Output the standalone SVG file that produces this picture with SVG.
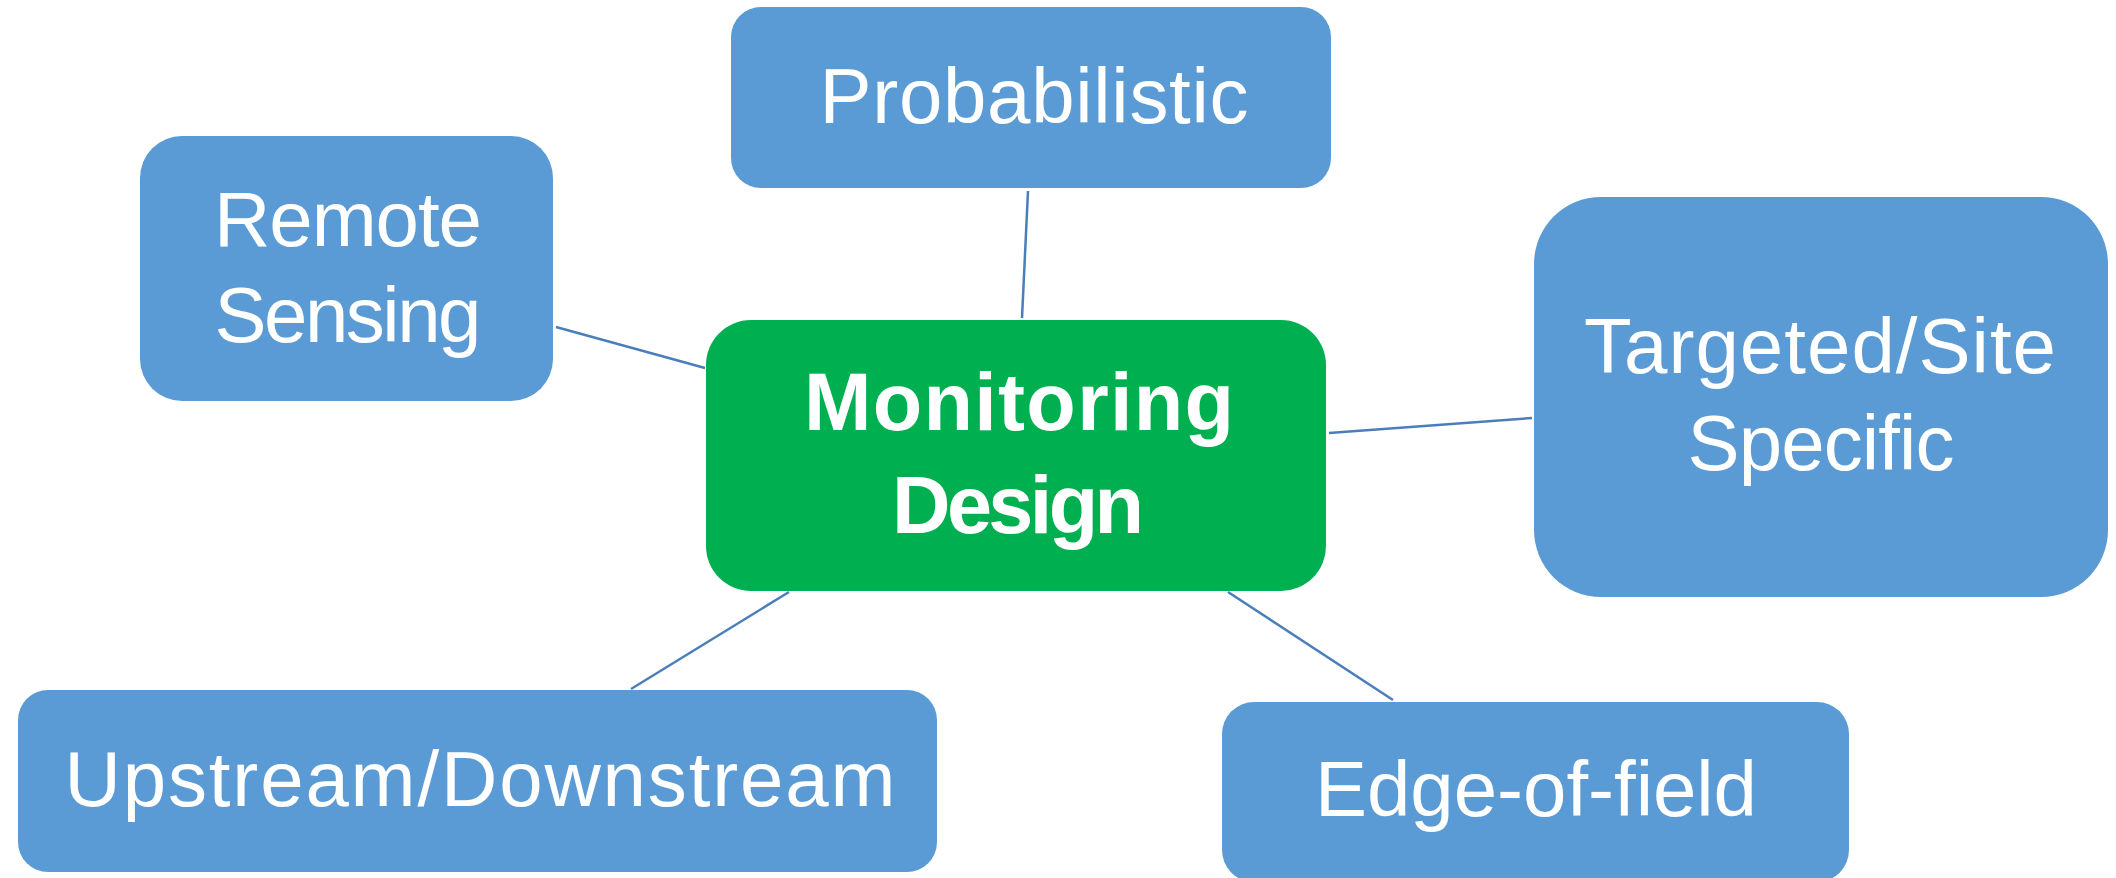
<svg xmlns="http://www.w3.org/2000/svg" width="2116" height="878" viewBox="0 0 2116 878">
  <style>
    .node { fill: #5B9BD5; }
    .center { fill: #00AF50; }
    .lbl { font-family: "Liberation Sans", Arial, sans-serif; font-size: 78px; fill: #FFFFFF; text-anchor: middle; }
    .lblb { font-family: "Liberation Sans", Arial, sans-serif; font-size: 81px; font-weight: bold; fill: #FFFFFF; text-anchor: middle; }
    .conn line { stroke: #4A7EBB; stroke-width: 2.5; fill: none; }
  </style>
  <rect width="2116" height="878" fill="#FFFFFF"/>
  <g id="connectors" class="conn">
    <line x1="1028" y1="191" x2="1022" y2="318"/>
    <line x1="556" y1="327" x2="705" y2="368"/>
    <line x1="1329" y1="433" x2="1532" y2="418"/>
    <line x1="789" y1="592" x2="631" y2="689"/>
    <line x1="1228" y1="592" x2="1393" y2="700"/>
  </g>
  <g id="probabilistic">
    <rect class="node" x="731" y="7" width="600" height="181" rx="30" ry="30"/>
    <text class="lbl" x="1034" y="123" textLength="429">Probabilistic</text>
  </g>
  <g id="remote-sensing">
    <rect class="node" x="140" y="136" width="413" height="265" rx="42" ry="42"/>
    <text class="lbl" x="348" y="246" textLength="268">Remote</text>
    <text class="lbl" x="348" y="342" textLength="267">Sensing</text>
  </g>
  <g id="monitoring-design">
    <rect class="center" x="706" y="320" width="620" height="271" rx="45" ry="45"/>
    <text class="lblb" x="1019" y="430" textLength="430">Monitoring</text>
    <text class="lblb" x="1018" y="533" textLength="252">Design</text>
  </g>
  <g id="targeted-site-specific">
    <rect class="node" x="1534" y="197" width="574" height="400" rx="67" ry="67"/>
    <text class="lbl" x="1820" y="373" textLength="472">Targeted/Site</text>
    <text class="lbl" x="1821" y="470" textLength="267">Specific</text>
  </g>
  <g id="upstream-downstream">
    <rect class="node" x="18" y="690" width="919" height="182" rx="30" ry="30"/>
    <text class="lbl" x="480" y="806" textLength="831">Upstream/Downstream</text>
  </g>
  <g id="edge-of-field">
    <rect class="node" x="1222" y="702" width="627" height="180" rx="32" ry="32"/>
    <text class="lbl" x="1536" y="816" textLength="442">Edge-of-field</text>
  </g>
</svg>
